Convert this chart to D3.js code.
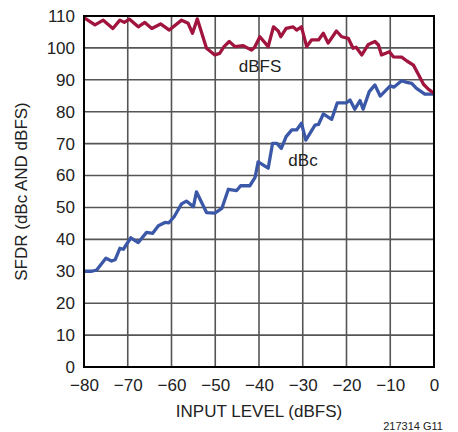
<!DOCTYPE html>
<html><head><meta charset="utf-8">
<script src="https://cdn.jsdelivr.net/npm/d3@7"></script>
<style>body{margin:0;background:#fff}text{font-family:"Liberation Sans Narrow","Liberation Sans",Arial,sans-serif}</style>
</head><body><svg id="c" width="458" height="432"></svg>
<script>
const xTicks = [-80,-70,-60,-50,-40,-30,-20,-10,0];
const yTicks = [0,10,20,30,40,50,60,70,80,90,100,110];
const dbfsX = [-80,-77.5,-75.6,-73.4,-71.8,-70.8,-69.6,-67.6,-66.1,-64.5,-62.5,-60.5,-57.7,-56.2,-55.2,-54.1,-52,-50.1,-49,-48,-46.8,-45.5,-43.6,-41.7,-41,-39.8,-37.9,-36.7,-35.6,-35,-33.8,-32.2,-31.4,-30.3,-29.1,-28,-26.4,-25.3,-24.2,-22.3,-21.1,-19.6,-18.5,-17.8,-16.5,-15,-13.5,-12.7,-12,-10.2,-9.3,-7.4,-6.2,-4.7,-3.5,-2.4,-1.3,0];
const dbfsY = [109.5,107.2,108.7,106.1,108.7,108,109,106.6,108,106.1,107.5,105.6,108.7,107.7,104.6,109.1,99.9,97.8,98.3,100.4,102,100.4,100.7,99.3,100.2,103.5,100.4,106.6,105.3,103.5,106.1,106.6,105.6,106.6,100.4,102.5,102.5,104.6,101.5,105.3,103.5,103,99.9,100.2,97.8,101.1,102,100.9,97.8,98.8,97.2,97.1,95.9,94.6,91.5,88.6,87.1,85.8];
const dbcX = [-80,-78.2,-77.1,-75,-73.7,-72.9,-71.8,-71,-69.3,-67.6,-65.7,-64.3,-63,-61.5,-60.6,-59.4,-57.7,-56.6,-55,-54.3,-52,-50.1,-48.5,-47,-45.1,-44.2,-42.1,-40.9,-40.2,-37.9,-36.9,-35.9,-34.9,-33.8,-32.5,-31.4,-30.3,-29.3,-27.2,-26.4,-25.3,-23.4,-22.1,-20,-19.2,-18.1,-16.9,-16.2,-14.8,-13.5,-12.3,-10,-9.2,-7.4,-6.2,-5.1,-4,-2.1,0];
const dbcY = [30,30,30.4,34.1,33.2,33.6,37.2,36.9,40.5,39,42.2,41.9,44.3,45.3,45.2,47.1,51.1,52,50.2,54.9,48.4,48.2,49.7,55.7,55.3,56.8,56.8,59.4,64.3,62.3,70.1,70.1,68.5,72.2,74.3,74.3,76.4,71.1,75.8,76,79.3,77.6,82.8,82.8,83.7,80.8,83.5,80.8,86.3,88.4,84.9,88.1,87.7,89.7,89.2,88.9,87.3,85.5,85.5];

const svg = d3.select("#c");
const L=84,R=434,T=16,B=367;
const x = d3.scaleLinear().domain([-80,0]).range([L,R]);
const y = d3.scaleLinear().domain([0,110]).range([B,T]);

// grid
svg.append("g").selectAll("line").data(xTicks.slice(1,-1)).join("line")
  .attr("x1",d=>x(d)).attr("x2",d=>x(d)).attr("y1",T).attr("y2",B)
  .attr("stroke","#555").attr("stroke-width",1.6);
svg.append("g").selectAll("line").data(yTicks.slice(1,-1)).join("line")
  .attr("y1",d=>y(d)).attr("y2",d=>y(d)).attr("x1",L).attr("x2",R)
  .attr("stroke","#555").attr("stroke-width",1.6);

const line = d3.line().x(d=>x(d[0])).y(d=>y(d[1]));
svg.append("path").datum(dbcX.map((v,i)=>[v,dbcY[i]])).attr("d",line)
  .attr("fill","none").attr("stroke","#3b58a8").attr("stroke-width",3.3).attr("stroke-linejoin","round");
svg.append("path").datum(dbfsX.map((v,i)=>[v,dbfsY[i]])).attr("d",line)
  .attr("fill","none").attr("stroke","#a0143e").attr("stroke-width",3.3).attr("stroke-linejoin","round");

svg.append("rect").attr("x",L).attr("y",T).attr("width",R-L).attr("height",B-T)
  .attr("fill","none").attr("stroke","#000").attr("stroke-width",2);

// axes
const xa = svg.append("g").attr("transform",`translate(0,${B})`)
  .call(d3.axisBottom(x).tickValues(xTicks).tickSize(0).tickPadding(12).tickFormat(d=>d<0?"\u2212"+(-d):d));
xa.select(".domain").remove();
xa.selectAll("text").attr("font-size",17).attr("fill","#222").attr("font-family",null);
const ya = svg.append("g").attr("transform",`translate(${L},0)`)
  .call(d3.axisLeft(y).tickValues(yTicks).tickSize(0).tickPadding(9));
ya.select(".domain").remove();
ya.selectAll("text").attr("font-size",17).attr("fill","#222").attr("font-family",null);

svg.append("text").attr("x",(L+R)/2).attr("y",417).attr("text-anchor","middle")
  .attr("font-size",17).attr("fill","#222").text("INPUT LEVEL (dBFS)");
svg.append("text").attr("transform",`translate(27,${(T+B)/2}) rotate(-90)`).attr("text-anchor","middle")
  .attr("font-size",17).attr("fill","#222").text("SFDR (dBc AND dBFS)");
svg.append("text").attr("x",443).attr("y",430).attr("text-anchor","end")
  .attr("font-size",11).attr("fill","#222").text("217314 G11");
svg.append("text").attr("x",260).attr("y",72).attr("text-anchor","middle")
  .attr("font-size",17).attr("fill","#222").text("dBFS");
svg.append("text").attr("x",303).attr("y",166).attr("text-anchor","middle")
  .attr("font-size",17).attr("fill","#222").text("dBc");
</script></body></html>
